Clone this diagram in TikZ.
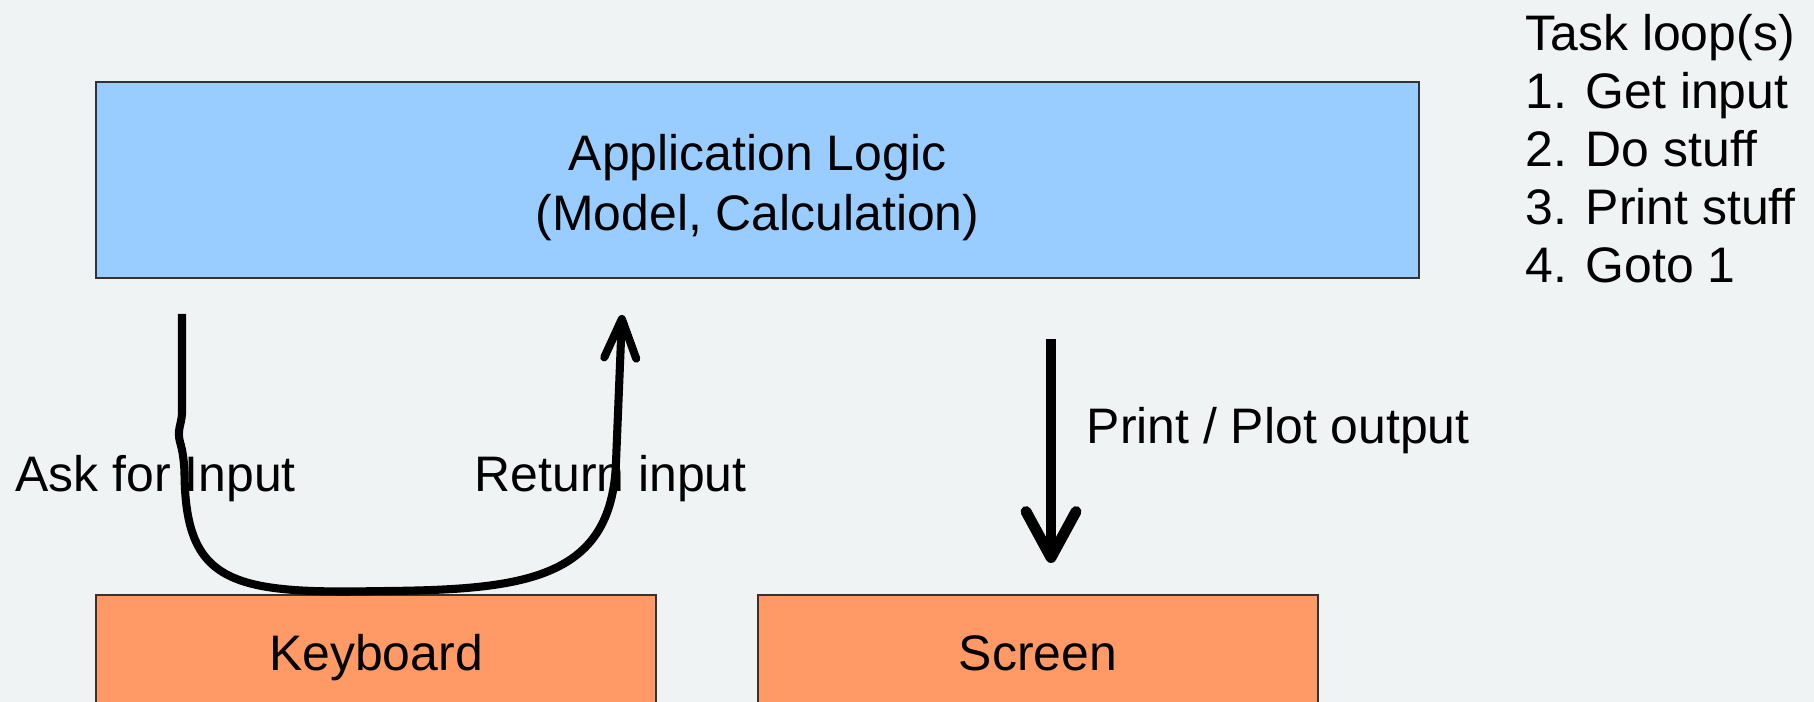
\documentclass[tikz,border=0pt]{standalone}
\usepackage{fontspec}
\setmainfont{Liberation Sans}
\usepackage{xcolor}
\definecolor{paperGrey}{HTML}{EFF3F4}
\definecolor{logicBlue}{HTML}{99CCFF}
\definecolor{ioOrange}{HTML}{FF9966}
\usetikzlibrary{arrows.meta,calc}

\begin{document}
\begin{tikzpicture}[
    every node/.style={font=\fontsize{14.2}{16.5}\selectfont, inner sep=0pt},
    box/.style={draw=black!80, line width=0.5pt, align=center},
    logic/.style={box, fill=logicBlue, minimum width=13.23cm, minimum height=1.96cm,
                  font=\fontsize{14.2}{17.2}\selectfont, text height=1.12cm},
    io/.style={box, fill=ioOrange, minimum width=5.6cm, minimum height=1.25cm,
               text height=0.37cm, text depth=0.1cm},
    lbl/.style={anchor=base west},
    flow/.style={-{Straight Barb[length=3.9mm, width=3.2mm, line cap=round, line join=round]},
                 line width=2.3pt, line join=round},
    outarr/.style={-{Straight Barb[length=4.6mm, width=5.0mm, line cap=round, line join=round]},
                line width=3.1pt}]
  \useasboundingbox (0,0) rectangle (18.14,7.02);
  \clip (0,0) rectangle (18.14,7.02);
  \fill[paperGrey] (0,0) rectangle (18.14,7.02);

  \node[logic] (logic) at (7.575,5.22) {Application Logic\\(Model, Calculation)};
  \node[io]    (kbd)   at (3.76,0.445) {Keyboard};
  \node[io]    (scr)   at (10.38,0.445) {Screen};

  \node[lbl] (ask)   at (0.15,2.10) {Ask for Input};
  \node[lbl] (ret)   at (4.74,2.10) {Return input};
  \node[lbl] (print) at (10.86,2.58) {Print / Plot output};
  \node[anchor=north west, align=left] (tasks) at (15.25,6.88)
    {Task loop(s)\\1. Get input\\2. Do stuff\\3. Print stuff\\4. Goto 1};

  \coordinate (askfrom)   at (1.82,3.88);
  \coordinate (retto)     at (6.22,3.87);
  \coordinate (printfrom) at (10.51,3.63);
  \coordinate (printto)   at (10.51,1.39);

  \draw[flow] (askfrom) -- (1.82,2.88)
    .. controls (1.81,2.76) and (1.77,2.72) .. (1.80,2.60)
    .. controls (1.83,2.50) and (1.84,2.4) .. (1.845,2.3)
    .. controls (1.85,1.2) and (2.3,1.08) .. ($(kbd.north)+(0,0.03)$)
    .. controls (5.2,1.12) and (6.12,1.2) .. (6.16,2.4) -- (retto);
  \draw[outarr] (printfrom) -- (printto);
\end{tikzpicture}
\end{document}
